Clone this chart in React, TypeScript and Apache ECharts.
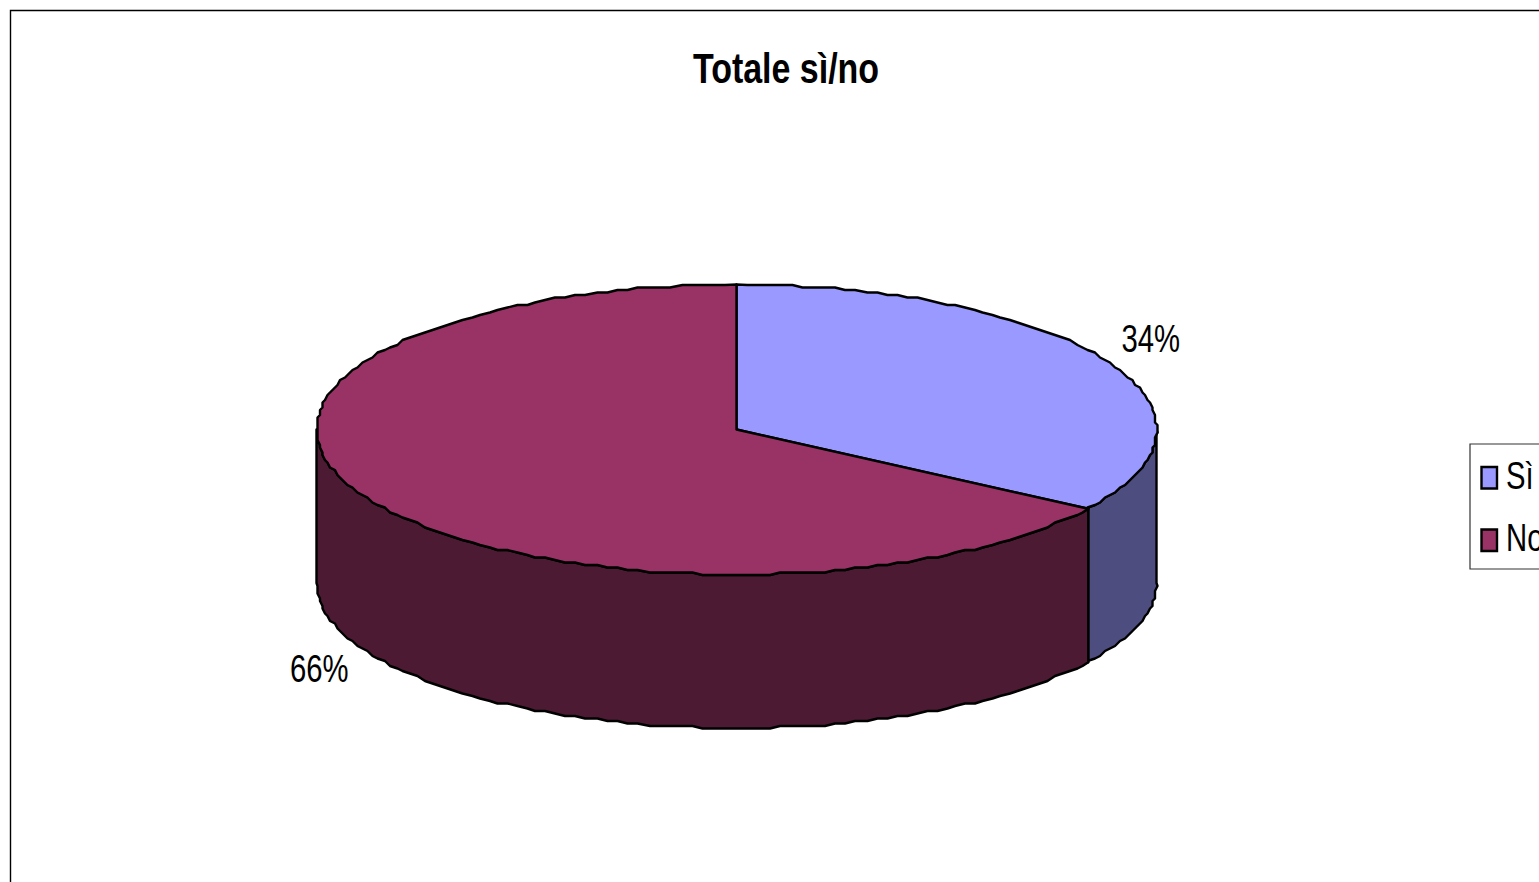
import React, { useEffect, useRef } from "react";
import * as echarts from "echarts";

const categories = ["Sì", "No"];
const values = [34.2, 65.8];
const topColors = ["#9999FF", "#993366"];
const sideColors = ["#4D4D80", "#4D1A33"];
const chartTitle = "Totale sì/no";
const FONT = '"Liberation Sans", Arial, sans-serif';

const CX = 736.5, CY = 429.5, RX = 420, RY = 145, DEPTH = 153.5;
const STEP = 1.5, SNAP = 2.5;
const LABEL_OFFSET: [number, number][] = [[45, -22], [-48, 170]];
const NARROW = 0.77;

function ringPoint(deg: number, dy: number, snap: boolean): [number, number] {
  const a = (deg * Math.PI) / 180;
  const x = CX + RX * Math.sin(a);
  const y = CY - RY * Math.cos(a);
  if (!snap) return [x, y + dy];
  return [Math.round(x / SNAP) * SNAP, Math.round(y / SNAP) * SNAP + dy];
}

function arc(from: number, to: number, dy: number): [number, number][] {
  const lo = Math.min(from, to), hi = Math.max(from, to);
  const pts: [number, number][] = [ringPoint(lo, dy, false)];
  for (let k = Math.floor(lo / STEP) + 1; k * STEP < hi; k++) {
    pts.push(ringPoint(k * STEP, dy, true));
  }
  pts.push(ringPoint(hi, dy, false));
  return from <= to ? pts : pts.reverse();
}

function renderSlice(index: number) {
  return (_params: any, api: any) => {
    const value = api.value(0);
    const total = values.reduce((s, v) => s + v, 0);
    const before = values.slice(0, index).reduce((s, v) => s + v, 0);
    const start = (before / total) * 360;
    const end = start + (value / total) * 360;
    const visFrom = Math.max(start, 90);
    const visTo = Math.min(end, 270);
    const children: any[] = [];
    const lineStyle = { stroke: "#000", lineWidth: 2.4, lineJoin: "round" };
    if (visTo > visFrom) {
      children.push({
        type: "polygon",
        shape: { points: [...arc(visFrom, visTo, 0), ...arc(visTo, visFrom, DEPTH)] },
        style: { fill: sideColors[index], ...lineStyle },
      });
    }
    children.push({
      type: "polygon",
      shape: { points: [[CX, CY], ...arc(start, end, 0)] },
      style: { fill: topColors[index], ...lineStyle },
    });
    const mid = (((start + end) / 2) * Math.PI) / 180;
    children.push({
      type: "text",
      x: CX + RX * Math.sin(mid) + LABEL_OFFSET[index][0],
      y: CY - RY * Math.cos(mid) + LABEL_OFFSET[index][1],
      scaleX: NARROW,
      style: {
        text: Math.round((value / total) * 100) + "%",
        x: 0,
        y: 0,
        align: "center",
        verticalAlign: "middle",
        fontFamily: FONT,
        fontSize: 38,
        fill: "#000",
      },
    });
    return { type: "group", children };
  };
}

const SWATCH_TOPS = [467, 529.5];

export default function App() {
  const ref = useRef<HTMLDivElement>(null);
  useEffect(() => {
    document.body.style.margin = "0";
    const chart = echarts.init(ref.current!, undefined, { renderer: "svg" });
    chart.setOption({
      animation: false,
      backgroundColor: "#fff",
      graphic: [
        {
          type: "rect",
          shape: { x: 10.5, y: 10.5, width: 1700, height: 1000 },
          style: { fill: "none", stroke: "#000", lineWidth: 1.4 },
          silent: true,
          z: -1,
        },
        {
          type: "text",
          x: 786,
          y: 68,
          scaleX: 0.79,
          style: {
            text: chartTitle,
            x: 0,
            y: 0,
            align: "center",
            verticalAlign: "middle",
            fontFamily: FONT,
            fontWeight: "bold",
            fontSize: 43,
            fill: "#000",
          },
        },
        {
          type: "rect",
          shape: { x: 1470, y: 444, width: 200, height: 125 },
          style: { fill: "#fff", stroke: "#333", lineWidth: 1.2 },
          silent: true,
        },
        ...categories.flatMap((name, i) => [
          {
            type: "rect",
            shape: { x: 1481.5, y: SWATCH_TOPS[i], width: 15.5, height: 21.5 },
            style: { fill: topColors[i], stroke: "#000", lineWidth: 2.4 },
            silent: true,
          },
          {
            type: "text",
            x: 1506,
            y: SWATCH_TOPS[i] + 8.5,
            scaleX: NARROW,
            style: {
              text: name,
              x: 0,
              y: 0,
              align: "left",
              verticalAlign: "middle",
              fontFamily: FONT,
              fontSize: 38,
              fill: "#000",
            },
          },
        ]),
      ],
      series: categories.map((name, i) => ({
        type: "custom",
        name,
        coordinateSystem: "none",
        renderItem: renderSlice(i),
        data: [values[i]],
        silent: true,
      })),
    });
    return () => chart.dispose();
  }, []);
  return (
    <div style={{ position: "absolute", left: 0, top: 0, width: 1539, height: 882, overflow: "hidden" }}>
      <div ref={ref} style={{ width: 1660, height: 882 }} />
    </div>
  );
}
